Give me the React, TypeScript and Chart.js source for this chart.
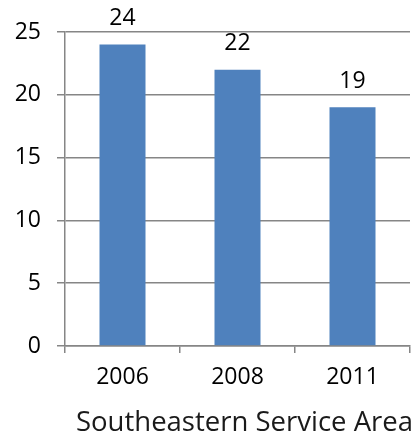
import React, { useEffect, useRef } from "react";
import { Chart, registerables } from "chart.js";

Chart.register(...registerables);

const categories = ["2006", "2008", "2011"];
const values = [24, 22, 19];
const yTicks = [0, 5, 10, 15, 20, 25];
const axisTitle = "Southeastern Service Area";

const FONT = "'Open Sans', sans-serif";

const valueLabels = {
  id: "valueLabels",
  afterDatasetsDraw(chart: any) {
    const ctx = chart.ctx;
    const meta = chart.getDatasetMeta(0);
    ctx.save();
    ctx.font = `23px ${FONT}`;
    ctx.fillStyle = "#000";
    ctx.textAlign = "center";
    ctx.textBaseline = "middle";
    meta.data.forEach((bar: any, i: number) => {
      ctx.fillText(String(values[i]), bar.x, bar.y - 26);
    });
    ctx.restore();
  },
};

const bottomTitle = {
  id: "bottomTitle",
  afterDraw(chart: any) {
    const ctx = chart.ctx;
    const area = chart.chartArea;
    ctx.save();
    ctx.font = `27.5px ${FONT}`;
    ctx.fillStyle = "#1a1a1a";
    ctx.textAlign = "center";
    ctx.textBaseline = "middle";
    ctx.fillText(axisTitle, (area.left + area.right) / 2 + 7, chart.height - 18);
    ctx.restore();
  },
};

export default function App() {
  const ref = useRef<HTMLCanvasElement>(null);
  useEffect(() => {
    if (!ref.current) return;
    const chart = new Chart(ref.current, {
      type: "bar",
      data: {
        labels: categories,
        datasets: [
          {
            data: values,
            backgroundColor: "#4F81BD",
            barPercentage: 0.4,
            categoryPercentage: 1,
          },
        ],
      },
      options: {
        animation: false,
        responsive: true,
        maintainAspectRatio: false,
        layout: { padding: { top: 32, right: 6, left: 0, bottom: 0 } },
        plugins: { legend: { display: false }, tooltip: { enabled: false } },
        scales: {
          x: {
            afterFit(scale: any) {
              scale.height = 95;
            },
            grid: {
              offset: true,
              drawOnChartArea: false,
              drawTicks: true,
              tickLength: 7,
              color: "#868686",
              lineWidth: 1.5,
            },
            border: { display: true, color: "#868686", width: 1.5 },
            ticks: { color: "#000", font: { family: FONT, size: 23 }, padding: 11 },
          },
          y: {
            min: 0,
            max: 25,
            afterFit(scale: any) {
              scale.width = 65;
            },
            afterBuildTicks(scale: any) {
              scale.ticks = yTicks.map((v) => ({ value: v }));
            },
            grid: {
              color: "#868686",
              lineWidth: 1.5,
              tickLength: 8,
            },
            border: { display: true, color: "#868686", width: 1.5 },
            ticks: { color: "#000", font: { family: FONT, size: 23 }, padding: 16 },
          },
        },
      },
      plugins: [valueLabels, bottomTitle],
    });
    return () => chart.destroy();
  }, []);
  return (
    <div style={{ position: "absolute", left: 0, top: 0, width: 416, height: 441 }}>
      <canvas ref={ref} />
    </div>
  );
}
